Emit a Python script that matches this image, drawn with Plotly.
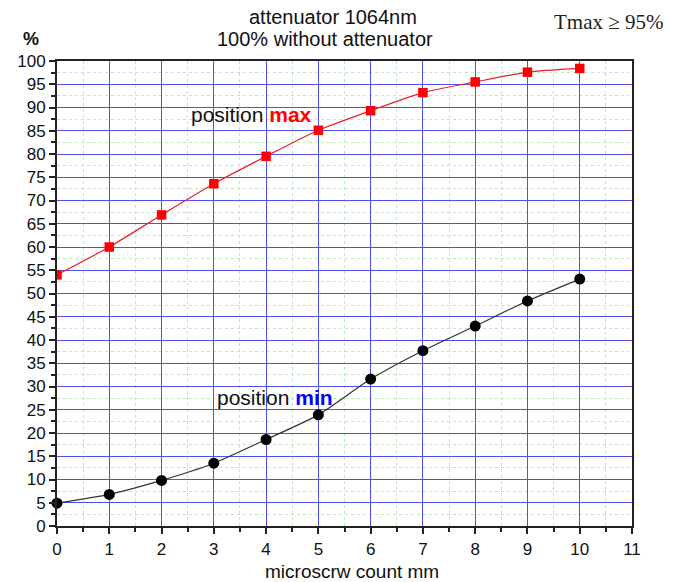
import plotly.graph_objects as go

# ---- data ----
x_mm = [0, 1, 2, 3, 4, 5, 6, 7, 8, 9, 10]
pos_max = [54.0, 60.0, 66.9, 73.6, 79.5, 85.1, 89.3, 93.2, 95.5, 97.6, 98.4]
pos_min = [4.9, 6.8, 9.8, 13.5, 18.6, 23.9, 31.6, 37.7, 43.0, 48.4, 53.1]
x_ticks = list(range(0, 12))
y_ticks = list(range(0, 101, 5))

title_line1 = "attenuator 1064nm"
title_line2 = "100% without attenuator"
x_title = "microscrw count mm"
y_unit = "%"
note = "Tmax ≥ 95%"

W, H = 680, 582
L, R, T, B = 57, 48, 61, 56
PW, PH = W - L - R, H - T - B

def px(xp):
    return (xp - L) / PW

def py(yp):
    return (H - B - yp) / PH

SANS = "Liberation Sans, Arial, sans-serif"
SERIF = "Liberation Serif, Times New Roman, serif"

fig = go.Figure()
fig.add_trace(go.Scatter(
    x=x_mm, y=pos_max, mode="lines+markers",
    line=dict(color="#e8202a", width=1.2, shape="spline", smoothing=0.6),
    marker=dict(symbol="square", size=9.5, color="#ff0000"),
    cliponaxis=True, showlegend=False))
fig.add_trace(go.Scatter(
    x=x_mm, y=pos_min, mode="lines+markers",
    line=dict(color="#333333", width=1.2, shape="spline", smoothing=0.6),
    marker=dict(symbol="circle", size=11, color="#000000"),
    cliponaxis=False, showlegend=False))

axis_common = dict(
    showline=True, linecolor="#222222", linewidth=2, mirror=True,
    ticks="outside", ticklen=6, tickwidth=2, tickcolor="#222222",
    showgrid=True, gridcolor="#5050f0", gridwidth=1,
    zeroline=False, automargin=False,
    tickfont=dict(family=SANS, size=17, color="#111111"),
)

minor_common = dict(showgrid=True, gridcolor="#b8ecb8", griddash="dot",
                    gridwidth=1, ticks="outside", ticklen=4,
                    tickwidth=1.5, tickcolor="#222222")

fig.update_xaxes(
    range=[0, 11], tickvals=x_ticks, ticktext=[str(v) for v in x_ticks],
    ticklabelstandoff=1,
    minor=dict(dtick=0.5, tick0=0, **minor_common),
    **axis_common)
fig.update_yaxes(
    range=[0, 100], tickvals=y_ticks, ticktext=[str(v) for v in y_ticks],
    minor=dict(dtick=2.5, tick0=0, **minor_common),
    **axis_common)

ann = []
ann.append(dict(text=title_line1, xref="paper", yref="paper", x=px(333), y=py(17),
                xanchor="center", yanchor="middle", showarrow=False,
                font=dict(family=SANS, size=20, color="#111111")))
ann.append(dict(text=title_line2, xref="paper", yref="paper", x=px(325), y=py(39),
                xanchor="center", yanchor="middle", showarrow=False,
                font=dict(family=SANS, size=20, color="#111111")))
ann.append(dict(text="<b>" + y_unit + "</b>", xref="paper", yref="paper", x=px(31), y=py(39),
                xanchor="center", yanchor="middle", showarrow=False,
                font=dict(family=SANS, size=18, color="#111111")))
ann.append(dict(text=note, xref="paper", yref="paper", x=px(552), y=py(22),
                xanchor="left", yanchor="middle", showarrow=False,
                font=dict(family=SERIF, size=21, color="#222222")))
ann.append(dict(text=x_title, xref="paper", yref="paper", x=px(352), y=py(571),
                xanchor="center", yanchor="middle", showarrow=False,
                font=dict(family=SANS, size=19, color="#111111")))
ann.append(dict(text="position <b><span style='color:#ff0000'>max</span></b>",
                xref="x", yref="y", x=2.52, y=88.6,
                xanchor="left", yanchor="middle", showarrow=False,
                font=dict(family=SANS, size=21, color="#111111")))
ann.append(dict(text="position <b><span style='color:#0000ff'>min</span></b>",
                xref="x", yref="y", x=3.03, y=27.6,
                xanchor="left", yanchor="middle", showarrow=False,
                font=dict(family=SANS, size=21, color="#111111")))

fig.update_layout(
    width=W, height=H,
    margin=dict(l=L, r=R, t=T, b=B, pad=0),
    paper_bgcolor="white", plot_bgcolor="white",
    annotations=ann,
)

fig.write_html("out.html")
